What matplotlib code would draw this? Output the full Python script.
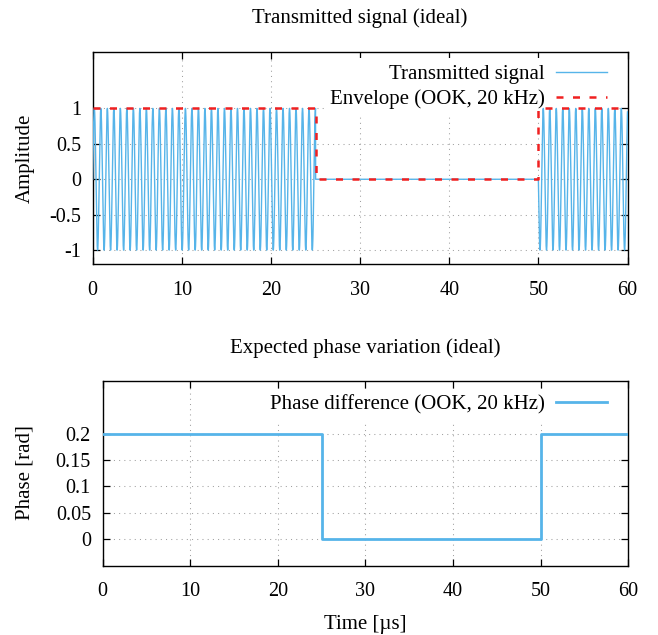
import numpy as np
import matplotlib
matplotlib.use("Agg")
import matplotlib.pyplot as plt

W, H = 658, 635

# envelope of the OOK signal: breakpoints [us] and levels
env_times = [0, 25, 25, 50, 50, 60]
env_levels = [1, 1, 0, 0, 1, 1]
carrier_mhz = 1.37  # apparent carrier frequency

# phase difference steps
phase_times = [0, 25, 25, 50, 50, 60]
phase_values = [0.2, 0.2, 0.0, 0.0, 0.2, 0.2]

x_ticks = [0, 10, 20, 30, 40, 50, 60]
amp_ticks = [-1, -0.5, 0, 0.5, 1]
amp_labels = ["-1", "-0.5", "0", "0.5", "1"]
phase_ticks = [0, 0.05, 0.1, 0.15, 0.2]
phase_labels = ["0", "0.05", "0.1", "0.15", "0.2"]

BLUE = "#56b4e9"
RED = "#f02020"
FS = 15
TICK_FS = 14.5

plt.rcParams["font.family"] = ["Liberation Serif", "DejaVu Serif"]
plt.rcParams["font.size"] = FS


def frac_rect(left, top, right, bottom):
    return [left / W, 1 - bottom / H, (right - left) / W, (bottom - top) / H]


def style_axes(ax, yticks, ylabels):
    ax.set_xticks(x_ticks)
    ax.set_xticklabels([str(v) for v in x_ticks])
    ax.set_yticks(yticks)
    ax.set_yticklabels(ylabels)
    ax.tick_params(direction="in", length=5, width=0.9, top=True, right=True,
                   labelsize=TICK_FS, colors="black")
    ax.tick_params(axis="x", pad=12)
    ax.tick_params(axis="y", pad=8.5)
    ax.grid(True, color="#a0a0a0", linestyle=(0, (1, 4)), linewidth=0.75)
    ax.set_axisbelow(True)
    for sp in ax.spines.values():
        sp.set_linewidth(1.0)


def env_at(t):
    out = np.zeros_like(t)
    for i in range(0, len(env_times) - 1, 2):
        t0, t1 = env_times[i], env_times[i + 1]
        if env_levels[i] == env_levels[i + 1]:
            mask = (t >= t0) & (t <= t1)
            out[mask] = env_levels[i]
    return out


fig = plt.figure(figsize=(W / 100, H / 100), dpi=100)

# --- top panel: transmitted signal ---
ax1 = fig.add_axes(frac_rect(92.7, 51.7, 627.5, 264.3))
t = np.linspace(0, 60, 24000)
sig = env_at(t) * np.sin(2 * np.pi * carrier_mhz * t)
# data lines sit above the (opaque) key box, grid stays below it
ax1.plot(t, sig, color=BLUE, linewidth=1.0, label="Transmitted signal",
         zorder=6)
ax1.plot(env_times, env_levels, color=RED, linewidth=1.8,
         dashes=(2.8, 3.8), label="Envelope (OOK, 20 kHz)", zorder=7)
ax1.set_xlim(0, 60)
ax1.set_ylim(-1.2, 1.8)
style_axes(ax1, amp_ticks, amp_labels)

# --- bottom panel: phase ---
ax2 = fig.add_axes(frac_rect(102.7, 380.7, 628.3, 565.7))
ax2.plot(phase_times, phase_values, color=BLUE, linewidth=2.0,
         label="Phase difference (OOK, 20 kHz)", zorder=6)
ax2.set_xlim(0, 60)
ax2.set_ylim(-0.05, 0.3)
style_axes(ax2, phase_ticks, phase_labels)


def add_key(ax, right_px, top_px):
    leg = ax.legend(loc="upper right", markerfirst=False, fontsize=FS,
                    bbox_to_anchor=(right_px / W, 1 - top_px / H),
                    bbox_transform=fig.transFigure,
                    borderaxespad=0, borderpad=0.3, handlelength=2.45,
                    handletextpad=0.53, labelspacing=0.25,
                    frameon=True, fancybox=False)
    leg.get_frame().set_facecolor("white")
    leg.get_frame().set_edgecolor("none")
    leg.get_frame().set_alpha(1.0)
    leg.set_zorder(5)
    return leg


add_key(ax1, 613.3, 58.5)
add_key(ax2, 613.3, 388.5)

# titles and axis labels placed in pixel coordinates
fig.text(360 / W, 1 - 18.5 / H, "Transmitted signal (ideal)",
         ha="center", va="center", fontsize=FS)
fig.text(365.5 / W, 1 - 348 / H, "Expected phase variation (ideal)",
         ha="center", va="center", fontsize=FS)
fig.text(365.5 / W, 1 - 625 / H, "Time [µs]",
         ha="center", va="center", fontsize=FS)
fig.text(25 / W, 1 - 158 / H, "Amplitude", rotation=90,
         ha="center", va="center", fontsize=FS)
fig.text(25 / W, 1 - 473 / H, "Phase [rad]", rotation=90,
         ha="center", va="center", fontsize=FS)

fig.savefig("out.png", dpi=100)
